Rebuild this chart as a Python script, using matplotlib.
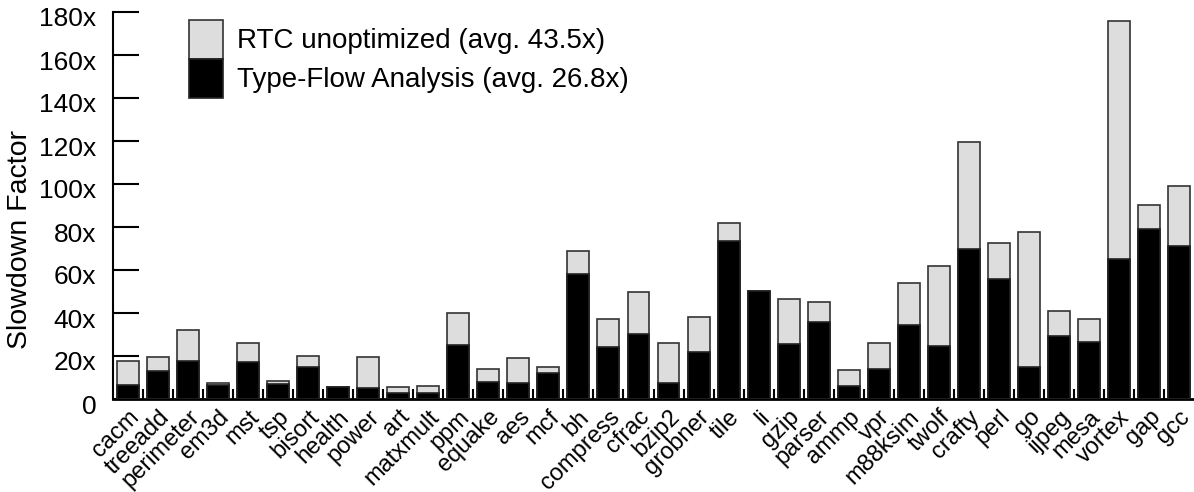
import matplotlib
matplotlib.use("Agg")
import matplotlib.pyplot as plt
import matplotlib.transforms as mtransforms
import numpy as np

plt.rcParams['font.family'] = ['Liberation Sans', 'DejaVu Sans']

benchmarks = ['cacm', 'treeadd', 'perimeter', 'em3d', 'mst', 'tsp', 'bisort', 'health',
              'power', 'art', 'matxmult', 'ppm', 'equake', 'aes', 'mcf', 'bh', 'compress',
              'cfrac', 'bzip2', 'grobner', 'tile', 'li', 'gzip', 'parser', 'ammp', 'vpr',
              'm88ksim', 'twolf', 'crafty', 'perl', 'go', 'ijpeg', 'mesa', 'vortex', 'gap', 'gcc']

# slowdown with unoptimized run-time checks
rtc_unopt = [17.7, 19.5, 32.2, 7.6, 26.2, 8.2, 20.2, 5.4,
             19.7, 5.4, 5.9, 39.8, 14.1, 19.1, 15.1, 68.7, 37.2,
             49.9, 26.2, 38.3, 81.7, 50.2, 46.4, 45.0, 13.6, 25.9,
             54.1, 62.0, 119.4, 72.4, 77.5, 40.9, 37.2, 175.7, 90.4, 99.1]

# slowdown after type-flow analysis
type_flow = [6.3, 12.9, 17.9, 6.6, 17.4, 7.0, 15.1, 5.4,
             5.0, 3.0, 2.8, 25.3, 8.0, 7.3, 12.0, 58.2, 24.1,
             30.1, 7.3, 21.8, 73.4, 50.2, 25.8, 35.9, 6.1, 13.9,
             34.6, 24.7, 69.7, 55.7, 14.8, 29.5, 26.6, 65.3, 79.1, 71.1]

yticks = [0, 20, 40, 60, 80, 100, 120, 140, 160, 180]
ytick_labels = ['0'] + ['%dx' % v for v in yticks[1:]]

fig = plt.figure(figsize=(11.94, 4.92), dpi=100)
ax = fig.add_axes([113 / 1194, 93 / 492, 1081 / 1194, 387 / 492])

x = np.arange(len(benchmarks))
ax.bar(x, rtc_unopt, width=0.73, color='#dddddd', edgecolor='#333333', linewidth=1.2,
       label='RTC unoptimized (avg. 43.5x)', zorder=2)
ax.bar(x, type_flow, width=0.73, color='black', edgecolor='#222222', linewidth=1.2,
       label='Type-Flow Analysis (avg. 26.8x)', zorder=3)

ax.set_xlim(-0.5, len(benchmarks) - 0.5)
ax.set_ylim(0, 180)

ax.spines['top'].set_visible(False)
ax.spines['right'].set_visible(False)
ax.spines['left'].set_linewidth(1.5)
ax.spines['bottom'].set_linewidth(2)

ax.set_yticks(yticks)
ax.set_yticklabels(ytick_labels, fontsize=19)
ax.tick_params(axis='y', direction='in', length=19, width=1.5, pad=12)
# y labels sit a little below their ticks
shift = mtransforms.ScaledTranslation(0, -0.05, fig.dpi_scale_trans)
for lbl in ax.get_yticklabels():
    lbl.set_transform(lbl.get_transform() + shift)

ax.set_xticks(x)
ax.set_xticklabels(benchmarks, fontsize=17, rotation=45, ha='right', va='top',
                   rotation_mode='anchor')
ax.tick_params(axis='x', which='major', length=0, pad=5)
ax.set_xticks(np.arange(len(benchmarks) - 1) + 0.5, minor=True)
ax.tick_params(axis='x', which='minor', direction='in', length=7, width=1.5)

ax.set_ylabel('Slowdown Factor', fontsize=20.5)
ax.yaxis.set_label_coords(-0.074, 0.413)

ax.legend(loc='upper left', bbox_to_anchor=(189 / 1194, 1 - 20 / 492),
          bbox_transform=fig.transFigure, frameon=False, fontsize=20,
          handlelength=1.22, handleheight=1.78, labelspacing=0.0,
          handletextpad=0.5, borderpad=0, borderaxespad=0)

fig.savefig('out.png', dpi=100)
